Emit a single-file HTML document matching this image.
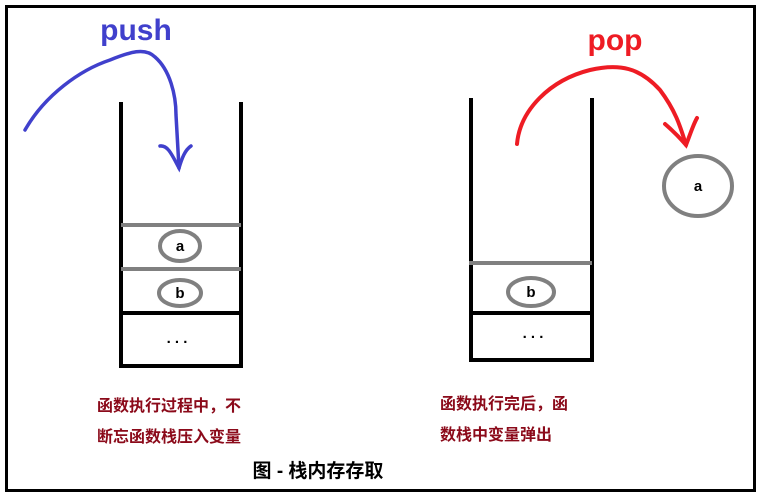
<!DOCTYPE html>
<html><head><meta charset="utf-8"><style>
body{margin:0;background:#fff;}
svg{display:block;}
</style></head><body>
<svg width="761" height="498" xmlns="http://www.w3.org/2000/svg">
<rect x="0" y="0" width="761" height="498" fill="#fff"/>
<rect x="6.5" y="6.5" width="748" height="484" fill="none" stroke="#000" stroke-width="3"/>
<!-- left stack -->
<g stroke="#000" stroke-width="4" fill="none">
<path d="M121 102 V366 H241 V102"/>
<line x1="121" y1="313" x2="241" y2="313"/>
</g>
<g stroke="#808080" stroke-width="4">
<line x1="121" y1="225" x2="241" y2="225"/>
<line x1="121" y1="269" x2="241" y2="269"/>
</g>
<ellipse cx="180" cy="246" rx="20" ry="15" fill="none" stroke="#808080" stroke-width="4"/>
<ellipse cx="180" cy="293" rx="21" ry="13" fill="none" stroke="#808080" stroke-width="4"/>
<g font-family="Liberation Sans, sans-serif" font-weight="bold" font-size="15" text-anchor="middle" fill="#000">
<text x="180" y="251">a</text>
<text x="180" y="298">b</text>
<text x="177" y="343">. . .</text>
<text x="531" y="297">b</text>
<text x="533" y="338">. . .</text>
<text x="698" y="191">a</text>
</g>
<!-- right stack -->
<g stroke="#000" stroke-width="4" fill="none">
<path d="M471 98 V360 H592 V98"/>
<line x1="471" y1="313" x2="592" y2="313"/>
</g>
<line x1="469" y1="263" x2="592" y2="263" stroke="#808080" stroke-width="4"/>
<ellipse cx="531" cy="292" rx="23" ry="14" fill="none" stroke="#808080" stroke-width="4"/>
<ellipse cx="698" cy="186" rx="34" ry="30" fill="none" stroke="#808080" stroke-width="4"/>
<!-- push arrow -->
<g stroke="#4040cc" stroke-width="3.5" fill="none" stroke-linecap="round">
<path d="M25 130 C45 95 80 70 110 60 C130 52 145 47 155 57 C170 70 176 95 176 115 L179 168"/>
<path d="M160 146 C168 145 172 155 179 168 C182 158 185 150 191 146"/>
</g>
<text x="136" y="40" font-family="Liberation Sans, sans-serif" font-weight="bold" font-size="30" fill="#4040cc" text-anchor="middle">push</text>
<!-- pop arrow -->
<g stroke="#ee1c24" stroke-width="4" fill="none" stroke-linecap="round">
<path d="M517 144 C520 110 550 80 590 70 C620 63 640 68 660 90 C675 110 680 125 686 145"/>
<path d="M665 124 C672 130 680 138 686 145 C690 135 693 125 697 118"/>
</g>
<text x="615" y="50" font-family="Liberation Sans, sans-serif" font-weight="bold" font-size="30" fill="#ee1c24" text-anchor="middle">pop</text>
<!-- labels -->
<g font-family="Liberation Sans, 'Noto Sans CJK SC', sans-serif" font-weight="bold" font-size="16" fill="#8b0a1a">
<text x="97" y="411">函数执行过程中，不</text>
<text x="97" y="442">断忘函数栈压入变量</text>
<text x="440" y="409">函数执行完后，函</text>
<text x="440" y="440">数栈中变量弹出</text>
</g>
<text x="318" y="477" font-family="Liberation Sans, 'Noto Sans CJK SC', sans-serif" font-weight="bold" font-size="19" fill="#000" text-anchor="middle">图 - 栈内存存取</text>
</svg>
</body></html>
